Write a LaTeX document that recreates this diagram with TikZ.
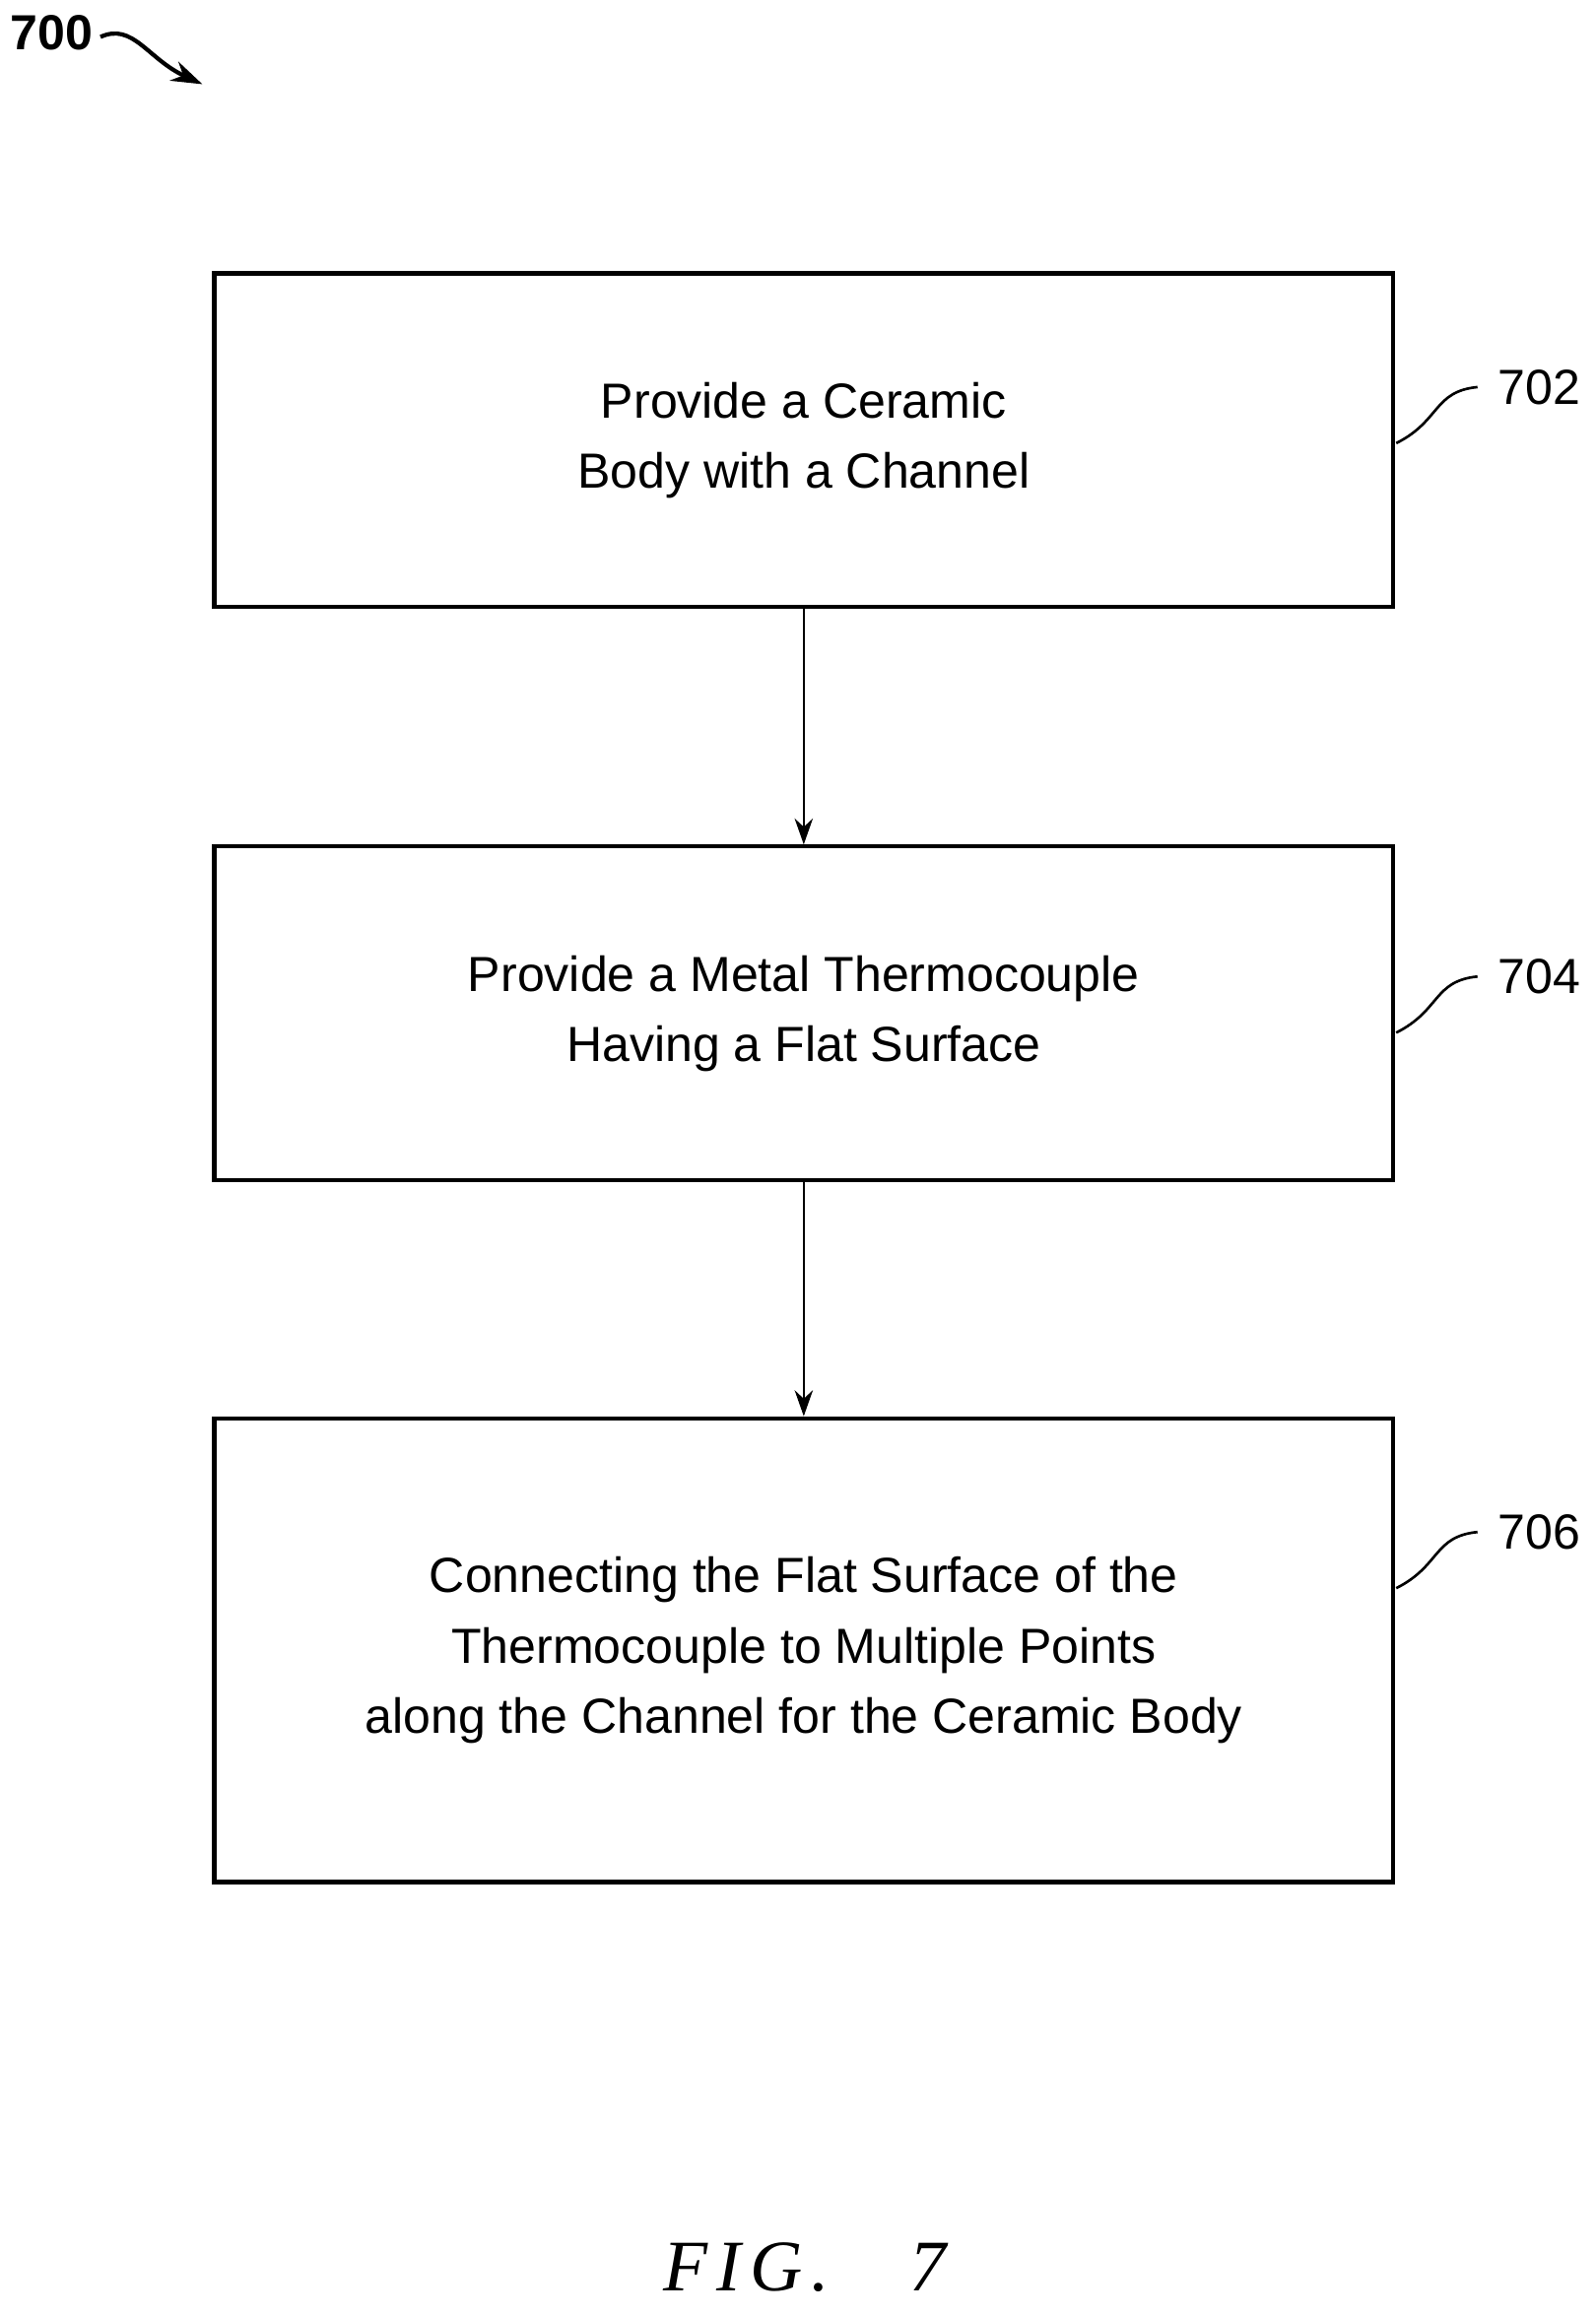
\documentclass[tikz,border=0pt]{standalone}
\usepackage{fontspec}
\setmainfont{Liberation Sans}
\newfontfamily\figfont[LetterSpace=12]{Liberation Serif}
\usetikzlibrary{positioning,calc,arrows.meta}

\tikzset{
  stepbox/.style={draw, line width=1.6pt, minimum width=15.96cm, align=center,
    font=\fontsize{19}{27}\selectfont},
  flow/.style={-{Stealth[length=10pt,width=7pt]}, line width=1pt},
  refnum/.style={font=\fontsize{19}{22}\selectfont},
}

\begin{document}
\begin{tikzpicture}[x=0.02cm,y=-0.02cm]
      \useasboundingbox (0,0) rectangle (1080,1567);

      % steps
      \node[stepbox, minimum height=4.52cm] (s702) at (544,298) {Provide a Ceramic\\Body with a Channel};
      \node[stepbox, minimum height=4.52cm] (s704) at (544,686) {Provide a Metal Thermocouple\\Having a Flat Surface};
      \node[stepbox, minimum height=6.28cm] (s706) at (544,1117) {Connecting the Flat Surface of the\\Thermocouple to Multiple Points\\along the Channel for the Ceramic Body};

      \draw[flow] (s702) -- (s704);
      \draw[flow] (s704) -- (s706);

      % reference numerals
      \node[refnum] (n702) at (1042,262) {702};
      \node[refnum] (n704) at (1042,661) {704};
      \node[refnum] (n706) at (1042,1037) {706};
      \draw[line width=1pt] (945,300) .. controls (975,285) and (970,265) .. (1000,262);
      \draw[line width=1pt] (945,699) .. controls (975,684) and (970,664) .. (1000,661);
      \draw[line width=1pt] (945,1075) .. controls (975,1060) and (970,1040) .. (1000,1037);

      \node[refnum, font=\bfseries\fontsize{19}{22}\selectfont] (n700) at (35,22) {700};
      \draw[-{Stealth[length=12pt,width=8pt]}, line width=1.6pt] (68,25) .. controls (90,15) and (100,40) .. (137,57);

      \node[font=\figfont\itshape\fontsize{28}{32}\selectfont] (fig) at (545,1535) {FIG.\ \ \ 7};
\end{tikzpicture}
\end{document}
